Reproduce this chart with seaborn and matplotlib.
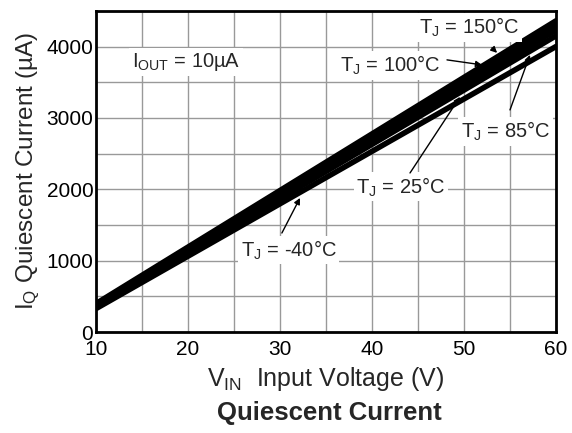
import pandas as pd
import numpy as np
import seaborn as sns
import matplotlib.pyplot as plt
from matplotlib.ticker import MultipleLocator

# Quiescent current vs input voltage, one line per junction temperature
vin = [10, 20, 30, 40, 50, 60]
temps = ['25°C', '-40°C', '85°C', '100°C', '150°C']
iq_25 = [330, 1064, 1798, 2532, 3266, 4000]
iq_m40 = [350, 1110, 1870, 2630, 3390, 4150]
iq_85 = [365, 1138, 1911, 2684, 3457, 4230]
iq_100 = [380, 1162, 1944, 2726, 3508, 4290]
iq_150 = [400, 1192, 1984, 2776, 3568, 4360]

df = pd.DataFrame({
    'vin': vin * 5,
    'iq': iq_25 + iq_m40 + iq_85 + iq_100 + iq_150,
    'temp': [t for t in temps for _ in vin],
})

sns.set_style("white")
plt.rcParams['font.family'] = ['Liberation Sans', 'DejaVu Sans']
plt.rcParams['mathtext.fontset'] = 'custom'
plt.rcParams['mathtext.rm'] = 'Liberation Sans'

fig = plt.figure(figsize=(5.72, 4.33), dpi=100)
ax = fig.add_axes([0.168, 0.233, 0.804, 0.742])

sns.lineplot(data=df, x='vin', y='iq', hue='temp',
             palette=['black'] * 5, linewidth=4, legend=False, ax=ax)

ax.set_xlim(10, 60)
ax.set_ylim(0, 4500)
ax.xaxis.set_major_locator(MultipleLocator(10))
ax.xaxis.set_minor_locator(MultipleLocator(5))
ax.yaxis.set_major_locator(MultipleLocator(1000))
ax.yaxis.set_minor_locator(MultipleLocator(500))
ax.grid(which='both', color='#999999', linewidth=1)
ax.set_axisbelow(True)
for s in ax.spines.values():
    s.set_color('black')
    s.set_linewidth(2)
ax.tick_params(which='both', length=0, labelsize=15, colors='black')
ax.tick_params(axis='x', pad=6)
ax.tick_params(axis='y', pad=2)

ax.set_xlabel(r'$\mathregular{V_{IN}}$  Input Voltage (V)', fontsize=18, labelpad=4)
ax.set_ylabel(r'$\mathregular{I_Q}$ Quiescent Current (µA)', fontsize=17.5, labelpad=3)
fig.text(0.575, 0.03, 'Quiescent Current', ha='center', fontsize=18.5, fontweight='bold')

box = dict(facecolor='white', edgecolor='none', pad=2)
arrow = dict(arrowstyle='-|>', color='black', lw=1, mutation_scale=9, shrinkA=0, shrinkB=0)

fs = 14.5
ax.text(13.9, 3787, r'$\mathregular{I_{OUT}}$ = 10µA', fontsize=fs, va='center', bbox=box)
ax.text(45.1, 4264, r'$\mathregular{T_J}$ = 150°C', fontsize=fs, va='center', bbox=box)
ax.text(36.5, 3730, r'$\mathregular{T_J}$ = 100°C', fontsize=fs, va='center', bbox=box)
ax.text(49.7, 2810, r'$\mathregular{T_J}$ = 85°C', fontsize=fs, va='center', bbox=box)
ax.text(38.3, 2034, r'$\mathregular{T_J}$ = 25°C', fontsize=fs, va='center', bbox=box)
ax.text(25.7, 1150, r'$\mathregular{T_J}$ = -40°C', fontsize=fs, va='center', bbox=box)

ax.annotate('', xy=(53.6, 3911), xytext=(53.04, 3981), arrowprops=arrow)
ax.annotate('', xy=(51.96, 3743), xytext=(48.15, 3813), arrowprops=arrow)
ax.annotate('', xy=(57.17, 3883), xytext=(55.0, 3112), arrowprops=arrow)
ax.annotate('', xy=(49.57, 3295), xytext=(44.13, 2229), arrowprops=arrow)
ax.annotate('', xy=(32.17, 1879), xytext=(30.2, 1388), arrowprops=arrow)

plt.savefig('out.png', dpi=100)
